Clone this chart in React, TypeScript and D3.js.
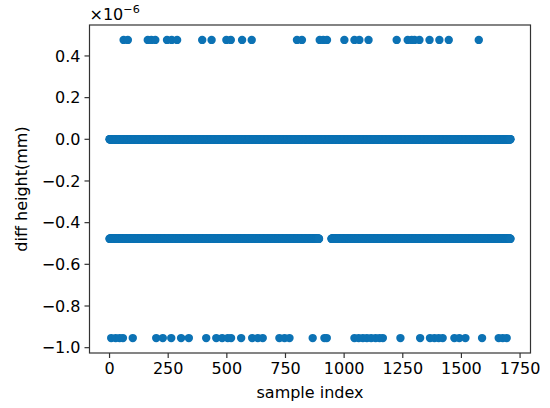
import React from "react";
import * as d3 from "d3";

// values in units of 1e-6 mm
const levels = [0.477, 0, -0.477, -0.954];
const topIdx = [60, 78, 163, 178, 195, 245, 265, 288, 395, 435, 498, 517, 565, 606, 799, 820, 896, 911, 927, 1001, 1044, 1065, 1104, 1224, 1271, 1288, 1300, 1321, 1364, 1406, 1446, 1574];
const bottomIdx = [7, 26, 43, 57, 99, 199, 227, 263, 305, 338, 412, 455, 480, 504, 518, 561, 608, 632, 653, 724, 746, 767, 866, 916, 926, 1044, 1062, 1080, 1097, 1115, 1134, 1151, 1165, 1240, 1324, 1366, 1385, 1403, 1420, 1470, 1491, 1517, 1588, 1659, 1676, 1693];
const zeroRuns: [number, number][] = [[0, 1709]];
const negHalfRuns: [number, number][] = [[0, 893], [946, 1709]];
const xTicks = [0, 250, 500, 750, 1000, 1250, 1500, 1750];
const yTicks = [-1.0, -0.8, -0.6, -0.4, -0.2, 0.0, 0.2, 0.4];

const W = 550, H = 408;
const L = 89.5, R = 530.5, T = 25, B = 353;
const FONT = "DejaVu Sans, sans-serif";
const FS = 16;
const COLOR = "#0c72b4";

function expand(runs: [number, number][]) {
  const out: number[] = [];
  runs.forEach(([a, b]) => { for (let i = a; i <= b; i++) out.push(i); });
  return out;
}

export default function App() {
  const pts: { x: number; y: number }[] = [];
  expand(zeroRuns).forEach((i) => pts.push({ x: i, y: levels[1] }));
  expand(negHalfRuns).forEach((i) => pts.push({ x: i, y: levels[2] }));
  topIdx.forEach((i) => pts.push({ x: i, y: levels[0] }));
  bottomIdx.forEach((i) => pts.push({ x: i, y: levels[3] }));

  const xmin = d3.min(pts, (d) => d.x)!, xmax = d3.max(pts, (d) => d.x)!;
  const ymin = d3.min(pts, (d) => d.y)!, ymax = d3.max(pts, (d) => d.y)!;
  const mx = (xmax - xmin) * 0.05, my = (ymax - ymin) * 0.05;
  const x = d3.scaleLinear().domain([xmin - mx, xmax + mx]).range([L, R]);
  const y = d3.scaleLinear().domain([ymin - my, ymax + my]).range([B, T]);
  const fmtY = (v: number) => d3.format(".1f")(v).replace("-", "\u2212");

  return (
    <svg width={W} height={H} style={{ display: "block", position: "absolute", left: 0, top: 0 }} fontFamily={FONT}>
      <rect x={0} y={0} width={W} height={H} fill="#fff" />
      <g>
        {pts.map((d, k) => (
          <circle key={k} cx={x(d.x)} cy={y(d.y)} r={4.2} fill={COLOR} />
        ))}
      </g>
      <rect x={L} y={T} width={R - L} height={B - T} fill="none" stroke="#333" strokeWidth={1.2} />
      {xTicks.map((t) => (
        <g key={"x" + t}>
          <line x1={x(t)} x2={x(t)} y1={B} y2={B + 5} stroke="#333" strokeWidth={1.2} />
          <text x={x(t)} y={B + 9 + FS * 0.76} textAnchor="middle" fontSize={FS} fill="#000">{t}</text>
        </g>
      ))}
      {yTicks.map((t) => (
        <g key={"y" + t}>
          <line x1={L - 5} x2={L} y1={y(t)} y2={y(t)} stroke="#333" strokeWidth={1.2} />
          <text x={L - 9} y={y(t)} dy="0.36em" textAnchor="end" fontSize={FS} fill="#000">{fmtY(t)}</text>
        </g>
      ))}
      <text x={(L + R) / 2} y={398} textAnchor="middle" fontSize={FS} fill="#000">sample index</text>
      <text transform={`translate(27,${(T + B) / 2}) rotate(-90)`} textAnchor="middle" fontSize={FS} fill="#000">diff height(mm)</text>
      <text x={L} y={20} fontSize={FS} fill="#000">
        ×10<tspan dy={-7} fontSize={FS * 0.7}>{"\u22126"}</tspan>
      </text>
    </svg>
  );
}
